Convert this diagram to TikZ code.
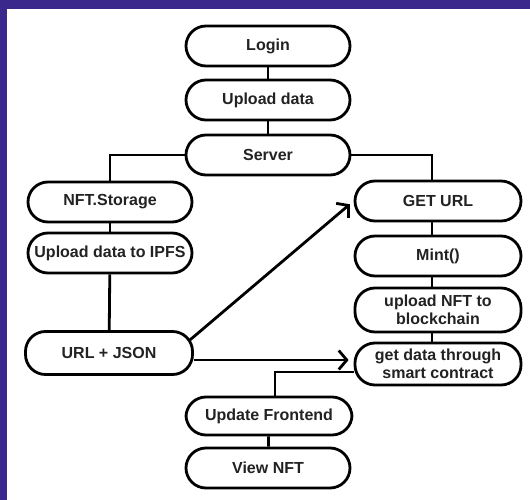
\documentclass[tikz,border=0pt]{standalone}
\usepackage{fontspec}
\setmainfont{Liberation Sans}
\usetikzlibrary{arrows.meta}
\definecolor{bandpurple}{RGB}{58,40,140}
\definecolor{inkgrey}{RGB}{34,34,34}

\begin{document}
\begin{tikzpicture}[
  x=1pt, y=-1pt,
  every node/.style={draw, line width=2.8pt, rounded corners=20pt,
    minimum width=164pt, minimum height=40pt, inner sep=2pt, align=center,
    font=\fontsize{16}{18}\selectfont\bfseries, text=inkgrey},
  link/.style={line width=2.8pt},
  flow/.style={link, -{Straight Barb[length=8pt, width=19pt]}, shorten >=5pt}
]
% frame
\fill[bandpurple] (0,0) rectangle (530,500);
\fill[white] (7,9) rectangle (530,500);

% middle column
\node (login) at (268,46) {Login};
\node (upload) at (268,100) {Upload data};
\node (server) at (268,155) {Server};

% storage side
\node (nftstorage) at (110,202) {NFT.Storage};
\node (ipfs) at (110,253) {Upload data to IPFS};
\node[minimum width=167pt, minimum height=43pt] (urljson) at (109,353) {URL + JSON};

% minting side
\node[minimum width=166pt] (geturl) at (438,201) {GET URL};
\node[minimum width=166pt] (mint) at (438,256) {Mint()};
\node[minimum width=166pt, minimum height=44pt] (tochain) at (438,310) {upload NFT to\\blockchain};
\node[minimum width=166pt, minimum height=42pt] (getdata) at (438,364) {get data through\\smart contract};

% frontend
\node[minimum width=166pt, minimum height=38pt] (frontend) at (269,416) {Update Frontend};
\node (viewnft) at (268,468) {View NFT};

\draw[link] (login) -- (upload);
\draw[link] (upload) -- (server);
\draw[link] (server.west) -| (nftstorage.north);
\draw[link] (server.east) -| ([xshift=-6pt]geturl.north);
\draw[link] (nftstorage) -- (ipfs);
\draw[link] (ipfs) -- (urljson);
\draw[link] ([xshift=-6pt]geturl.south) -- ([xshift=-6pt]mint.north);
\draw[link] ([xshift=-6pt]mint.south) -- ([xshift=-6pt]tochain.north);
\draw[link] ([xshift=-6pt]tochain.south) -- ([xshift=-6pt]getdata.north);
\draw[flow] ([shift={(-4pt,13pt)}]urljson.east) -- (geturl.west);
\draw[flow] ([yshift=-7pt]urljson.east) coordinate (jsonout) -- (jsonout -| getdata.west);
\draw[link] ([yshift=-8pt]getdata.west) -| ([xshift=6pt]frontend.north);
\draw[link] (frontend) -- (viewnft);
\end{tikzpicture}
\end{document}
